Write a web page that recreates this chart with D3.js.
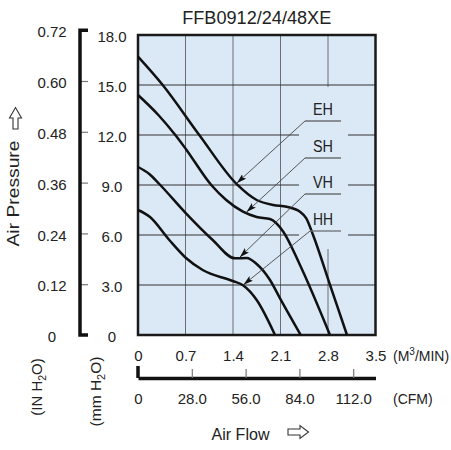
<!DOCTYPE html>
<html>
<head>
<meta charset="utf-8">
<script src="https://cdn.jsdelivr.net/npm/d3@7"></script>
<style>
	body { margin: 0; background: #fff; }
	text { font-family: "Liberation Sans", Arial, sans-serif; fill: #222; }
</style>
</head>
<body>
<div id="chart"></div>
<script>
// data
let flowTicks = [0, 0.7, 1.4, 2.1, 2.8, 3.5]
let mmTicks = [0, 3, 6, 9, 12, 15, 18]
let inTicks = [0, 0.12, 0.24, 0.36, 0.48, 0.60, 0.72]
let cfmTicks = [0, 28, 56, 84, 112]
let seriesNames = ["EH", "SH", "VH", "HH"]

let ehFlow = [0, 0.364, 0.903, 1.455, 1.749, 1.994, 2.191, 2.387, 2.48, 2.58, 2.83, 3.08]
let ehPressure = [16.7, 15.0, 12.0, 9.05, 8.1, 7.8, 7.7, 7.4, 7.0, 6.0, 3.0, 0]
let shFlow = [0, 0.3, 0.55, 0.707, 1.08, 1.3, 1.547, 1.749, 1.945, 2.141, 2.387, 2.829]
let shPressure = [14.4, 13.2, 12.0, 11.15, 9.0, 8.1, 7.4, 7.08, 6.96, 6.2, 4.2, 0]
let vhFlow = [0, 0.167, 0.314, 0.707, 1.101, 1.429, 1.602, 1.749, 1.945, 2.093, 2.398]
let vhPressure = [10.08, 9.66, 9.06, 7.3, 5.7, 4.6, 4.62, 4.26, 3.3, 2.2, 0]
let hhFlow = [0, 0.177, 0.461, 0.707, 0.953, 1.396, 1.552, 1.749, 2.019]
let hhPressure = [7.5, 7.08, 5.7, 4.62, 3.9, 3.24, 2.97, 2.1, 0]

// where each leader arrow touches its curve (air flow, M3/MIN)
let calloutFlow = [1.455, 1.6, 1.5, 1.555]

let w = 451, h = 450,
	margins = {left: 138, right: 375.5, top: 35, bottom: 335},
	bg = "#dbe9f6"

let svg = d3.select("#chart").append("svg")
	.attr("width", w)
	.attr("height", h)

let x = d3.scaleLinear().domain([0, 3.5]).range([margins.left, margins.right])
let y = d3.scaleLinear().domain([0, 18]).range([margins.bottom, margins.top])
// 1 inch = 25.4 mm, 1 M3/MIN = 35.3147 CFM
let yIn = d3.scaleLinear().domain([0, 0.72]).range([margins.bottom, y(0.72 * 25.4)])
let xCfm = d3.scaleLinear().domain([0, 3.5 * 35.3147]).range([margins.left, margins.right])

let series = [
	{name: seriesNames[0], flow: ehFlow, pressure: ehPressure},
	{name: seriesNames[1], flow: shFlow, pressure: shPressure},
	{name: seriesNames[2], flow: vhFlow, pressure: vhPressure},
	{name: seriesNames[3], flow: hhFlow, pressure: hhPressure}
]

// Title
svg.append("text")
	.attr("x", (margins.left + margins.right) / 2)
	.attr("y", 24)
	.attr("text-anchor", "middle")
	.attr("font-size", 18)
	.attr("textLength", 149)
	.attr("lengthAdjust", "spacingAndGlyphs")
	.text("FFB0912/24/48XE")

// Plot background
svg.append("rect")
	.attr("x", margins.left)
	.attr("y", margins.top)
	.attr("width", margins.right - margins.left)
	.attr("height", margins.bottom - margins.top)
	.attr("fill", bg)

// Grid
svg.append("g").selectAll("line")
	.data(flowTicks.slice(1, -1))
	.enter().append("line")
	.attr("x1", d => x(d)).attr("x2", d => x(d))
	.attr("y1", margins.top).attr("y2", margins.bottom)
	.attr("stroke", "#6b6f73").attr("stroke-width", 1)

svg.append("g").selectAll("line")
	.data(mmTicks.slice(1, -1))
	.enter().append("line")
	.attr("x1", margins.left).attr("x2", margins.right)
	.attr("y1", d => y(d)).attr("y2", d => y(d))
	.attr("stroke", "#333").attr("stroke-width", 1)

// gridlines are cut out behind the curve labels
svg.append("rect")
	.attr("x", 299).attr("y", 87)
	.attr("width", 49).attr("height", 162)
	.attr("fill", bg)

// Frame
svg.append("rect")
	.attr("x", margins.left)
	.attr("y", margins.top)
	.attr("width", margins.right - margins.left)
	.attr("height", margins.bottom - margins.top)
	.attr("fill", "none")
	.attr("stroke", "#1a1a1a")
	.attr("stroke-width", 2.5)

// Curves
let line = d3.line()
	.x(d => x(d[0]))
	.y(d => y(d[1]))
	.curve(d3.curveMonotoneX)

svg.append("g").selectAll("path")
	.data(series)
	.enter().append("path")
	.attr("d", s => line(s.flow.map((f, i) => [f, s.pressure[i]])))
	.attr("fill", "none")
	.attr("stroke", "#111")
	.attr("stroke-width", 2.5)
	.attr("stroke-linejoin", "round")

// Callouts
svg.append("defs").append("marker")
	.attr("id", "tip")
	.attr("markerUnits", "userSpaceOnUse")
	.attr("viewBox", "0 0 10 6")
	.attr("refX", 10).attr("refY", 3)
	.attr("markerWidth", 10).attr("markerHeight", 6)
	.attr("orient", "auto")
	.append("path")
	.attr("d", "M0,0L10,3L0,6L2,3Z")
	.attr("fill", "#111")

let pressureAt = (s, q) => {
	let i = d3.bisectLeft(s.flow, q)
	if (i <= 0) return s.pressure[0]
	let t = (q - s.flow[i - 1]) / (s.flow[i] - s.flow[i - 1])
	return s.pressure[i - 1] + t * (s.pressure[i] - s.pressure[i - 1])
}

let labelBase = [115, 152, 188, 225],
	underY = [121, 158, 194, 231],
	underX0 = [305, 305, 305, 310],
	underX1 = 341

series.forEach((s, i) => {
	let tx = x(calloutFlow[i]), ty = y(pressureAt(s, calloutFlow[i])) - 1
	svg.append("line")
		.attr("x1", underX0[i]).attr("y1", underY[i])
		.attr("x2", underX1).attr("y2", underY[i])
		.attr("stroke", "#6b6f73").attr("stroke-width", 1.3)
	svg.append("line")
		.attr("x1", underX0[i]).attr("y1", underY[i])
		.attr("x2", tx).attr("y2", ty)
		.attr("stroke", "#444").attr("stroke-width", 0.9)
		.attr("marker-end", "url(#tip)")
	svg.append("text")
		.attr("x", 323).attr("y", labelBase[i])
		.attr("text-anchor", "middle")
		.attr("font-size", 16)
		.attr("textLength", 20)
		.attr("lengthAdjust", "spacingAndGlyphs")
		.text(s.name)
})

// mm H2O labels (plot left edge)
let fmt1 = d => d === 0 ? "0" : d.toFixed(1)
let fmt2 = d => d === 0 ? "0" : d.toFixed(2)

let mmAxis = svg.append("g")
	.attr("transform", "translate(" + margins.left + ",0)")
	.call(d3.axisLeft(y).tickValues(mmTicks).tickFormat(fmt1).tickSize(0).tickPadding(26))
mmAxis.select(".domain").remove()
mmAxis.selectAll("text")
	.attr("text-anchor", "middle").attr("dy", "0.45em")
	.attr("font-size", 15).style("font-family", null)

// IN H2O axis
let inX = 80
let inAxis = svg.append("g")
	.attr("transform", "translate(" + inX + ",0)")
	.call(d3.axisLeft(yIn).tickValues(inTicks).tickFormat(fmt2).tickSize(-8).tickPadding(28))
inAxis.select(".domain").remove()
inAxis.selectAll(".tick line").attr("stroke", "#777").attr("stroke-width", 1.2)
inAxis.selectAll("text")
	.attr("text-anchor", "middle").attr("dy", "0.45em")
	.attr("font-size", 15).style("font-family", null)

svg.append("path")
	.attr("d", "M" + (inX + 8) + "," + yIn(0.72) + "H" + inX + "V" + yIn(0) + "H" + (inX + 8))
	.attr("fill", "none")
	.attr("stroke", "#111")
	.attr("stroke-width", 3.5)

// M3/MIN labels
let flowAxis = svg.append("g")
	.attr("transform", "translate(0," + margins.bottom + ")")
	.call(d3.axisBottom(x).tickValues(flowTicks).tickFormat(d => d === 0 ? "0" : d.toFixed(1)).tickSize(0).tickPadding(15))
flowAxis.select(".domain").remove()
flowAxis.selectAll("text").attr("font-size", 15).style("font-family", null)

let unit = svg.append("text")
	.attr("x", 393).attr("y", 361)
	.attr("font-size", 14)
unit.append("tspan").text("(M")
unit.append("tspan").attr("font-size", 10).attr("dy", -6).text("3")
unit.append("tspan").attr("dy", 6).text("/MIN)")

// CFM axis
let cfmY = 378
let cfmAxis = svg.append("g")
	.attr("transform", "translate(0," + cfmY + ")")
	.call(d3.axisBottom(xCfm).tickValues(cfmTicks).tickFormat(fmt1).tickSizeInner(-9).tickSizeOuter(0).tickPadding(15.5))
cfmAxis.select(".domain").attr("stroke", "#111").attr("stroke-width", 3.5)
cfmAxis.selectAll(".tick line").attr("stroke", "#777").attr("stroke-width", 1.2)
cfmAxis.selectAll("text").attr("font-size", 15).style("font-family", null)

svg.append("path")
	.attr("d", "M" + margins.left + "," + (cfmY - 12) + "V" + cfmY)
	.attr("stroke", "#111")
	.attr("stroke-width", 3.5)

svg.append("text")
	.attr("x", 393).attr("y", 404)
	.attr("font-size", 14)
	.text("(CFM)")

// Axis titles
svg.append("text")
	.attr("x", 211.5).attr("y", 440)
	.attr("font-size", 17)
	.attr("textLength", 58)
	.attr("lengthAdjust", "spacingAndGlyphs")
	.text("Air Flow")

svg.append("path")
	.attr("d", "M288,429H300V425.5L308.5,432L300,438.5V435H288Z")
	.attr("fill", "#fff")
	.attr("stroke", "#333")
	.attr("stroke-width", 1.1)

svg.append("text")
	.attr("transform", "translate(19,193.5) rotate(-90)")
	.attr("text-anchor", "middle")
	.attr("font-size", 16)
	.attr("textLength", 106)
	.attr("lengthAdjust", "spacingAndGlyphs")
	.text("Air Pressure")

svg.append("path")
	.attr("d", "M13,129V118H9.5L15.5,107.5L21.5,118H18V129Z")
	.attr("fill", "#fff")
	.attr("stroke", "#333")
	.attr("stroke-width", 1.1)

let rotLabel = (cx, cy, a, b, size) => {
	let t = svg.append("text")
		.attr("transform", "translate(" + cx + "," + cy + ") rotate(-90)")
		.attr("text-anchor", "middle")
		.attr("font-size", size)
	t.append("tspan").text(a + " H")
	t.append("tspan").attr("font-size", size * 0.7).attr("dy", 4).text("2")
	t.append("tspan").attr("dy", -4).text(b)
}
rotLabel(42, 387, "(IN", "O)", 15)
rotLabel(101, 391.5, "(mm", "O)", 15.5)
</script>
</body>
</html>
